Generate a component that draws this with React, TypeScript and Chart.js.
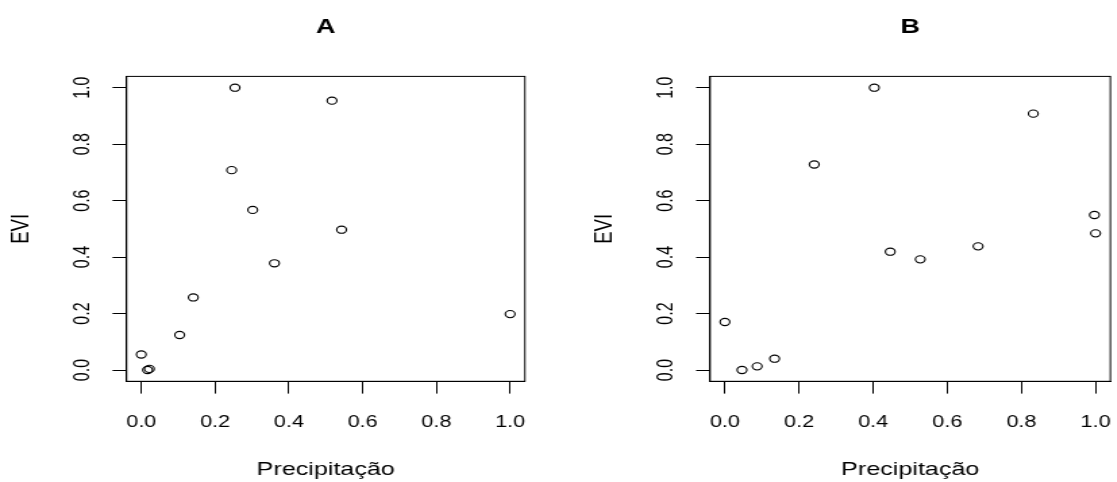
import React, { useEffect, useRef } from 'react';
import { Chart, registerables } from 'chart.js';

Chart.register(...registerables);

// ---- data ----
const panelTitles = ['A', 'B'];
const xAxisLabel = 'Precipitação';
const yAxisLabel = 'EVI';
const tickValues = [0, 0.2, 0.4, 0.6, 0.8, 1.0];
const tickLabels = ['0.0', '0.2', '0.4', '0.6', '0.8', '1.0'];

const precipA = [0.0, 0.017, 0.022, 0.104, 0.141, 0.245, 0.254, 0.302, 0.361, 0.517, 0.543, 1.0];
const eviA = [0.055, 0.0, 0.004, 0.124, 0.257, 0.708, 1.0, 0.567, 0.378, 0.954, 0.497, 0.198];

const precipB = [0.0, 0.046, 0.087, 0.134, 0.241, 0.403, 0.446, 0.527, 0.683, 0.832, 0.997, 1.0];
const eviB = [0.17, 0.0, 0.013, 0.04, 0.728, 1.0, 0.419, 0.392, 0.438, 0.908, 0.549, 0.484];

// ---- styling / layout ----
const S = 1.35; // horizontal stretch of the reference picture
const H = 482;
const FONT = '"Liberation Sans", Arial, Helvetica, sans-serif';
const TICK_FONT = 16;
const LABEL_FONT = 18.6;
const TITLE_FONT = 20;
const BOX_TOP = 76.4;
const BOX_BOTTOM = 381.3;

type PanelCfg = {
  title: string;
  xs: number[];
  ys: number[];
  cssLeft: number;
  w: number;
  boxL: number;
  boxR: number;
};

const panels: PanelCfg[] = [
  { title: panelTitles[0], xs: precipA, ys: eviA, cssLeft: 0, w: 414, boxL: 126.5, boxR: 524.8 },
  { title: panelTitles[1], xs: precipB, ys: eviB, cssLeft: 559, w: 436, boxL: 710, boxR: 1110 },
];

const boxPlugin = {
  id: 'rbox',
  afterDraw(chart: any) {
    const { ctx, chartArea } = chart;
    const { left, top, right, bottom } = chartArea;
    ctx.save();
    ctx.strokeStyle = '#000';
    ctx.lineWidth = 1;
    ctx.strokeRect(left, top, right - left, bottom - top);
    ctx.restore();
  },
};

const setTicks = (scale: any) => {
  scale.ticks = tickValues.map((value) => ({ value }));
};
const tickCb = (v: any) => {
  const i = tickValues.findIndex((t) => Math.abs(t - Number(v)) < 1e-9);
  return i >= 0 ? tickLabels[i] : '';
};

function Panel({ cfg }: { cfg: PanelCfg }) {
  const ref = useRef<HTMLCanvasElement>(null);
  useEffect(() => {
    const L = (cfg.boxL - cfg.cssLeft) / S;
    const R = (cfg.boxR - cfg.cssLeft) / S;
    const padRight = cfg.w - R;
    const labelLH = LABEL_FONT * 1.2;
    const yTitlePad = (cfg.boxL - 105 - cfg.cssLeft) / S - labelLH / 2;
    const yTickLen = 14 / S;
    const halfLabel = (TICK_FONT * 1.39) / 2;
    const yTickPad = 44 / S - yTickLen - halfLabel;
    const points = cfg.xs.map((x, i) => ({ x, y: cfg.ys[i] }));

    const chart = new Chart(ref.current as HTMLCanvasElement, {
      type: 'scatter',
      data: {
        datasets: [
          {
            data: points,
            pointStyle: 'circle',
            pointRadius: 3.6,
            pointBorderWidth: 1.1,
            pointBorderColor: '#000',
            pointBackgroundColor: 'rgba(0,0,0,0)',
            showLine: false,
          } as any,
        ],
      },
      options: {
        responsive: false,
        animation: false,
        devicePixelRatio: 1,
        events: [],
        layout: { padding: { left: 0, right: padRight, top: 0, bottom: 0 } },
        plugins: {
          legend: { display: false },
          tooltip: { enabled: false },
          title: {
            display: true,
            text: cfg.title,
            fullSize: false,
            color: '#000',
            font: { family: FONT, size: TITLE_FONT, weight: 'bold', lineHeight: 1.2 },
            padding: { top: 27.5 - TITLE_FONT * 0.6, bottom: BOX_TOP - 27.5 - TITLE_FONT * 0.6 },
          } as any,
        },
        scales: {
          x: {
            type: 'linear',
            position: 'bottom',
            min: -0.04,
            max: 1.04,
            afterBuildTicks: setTicks,
            afterFit: (s: any) => {
              s.height = H - BOX_BOTTOM;
            },
            ticks: {
              callback: tickCb,
              color: '#000',
              font: { family: FONT, size: TICK_FONT, lineHeight: 1.2 },
              padding: 422.5 - BOX_BOTTOM - 12.3 - TICK_FONT * 0.6,
              maxRotation: 0,
              autoSkip: false,
            },
            grid: { drawOnChartArea: false, drawTicks: true, tickLength: 12.3, color: '#000', lineWidth: 1 },
            border: { display: true, color: '#000', width: 1 },
            title: {
              display: true,
              text: xAxisLabel,
              color: '#000',
              font: { family: FONT, size: LABEL_FONT, lineHeight: 1.2 },
              padding: { top: 0, bottom: 1.1 },
            },
          } as any,
          y: {
            type: 'linear',
            position: 'left',
            min: -0.04,
            max: 1.04,
            afterBuildTicks: setTicks,
            afterFit: (s: any) => {
              s.width = L;
            },
            ticks: {
              callback: tickCb,
              color: '#000',
              font: { family: FONT, size: TICK_FONT, lineHeight: 1.2 },
              padding: yTickPad,
              minRotation: 90,
              maxRotation: 90,
              crossAlign: 'center',
              autoSkip: false,
            },
            grid: { drawOnChartArea: false, drawTicks: true, tickLength: yTickLen, color: '#000', lineWidth: 1 },
            border: { display: true, color: '#000', width: 1 },
            title: {
              display: true,
              text: yAxisLabel,
              color: '#000',
              font: { family: FONT, size: LABEL_FONT, lineHeight: 1.2 },
              padding: { top: yTitlePad, bottom: 0 },
            },
          } as any,
        },
      },
      plugins: [boxPlugin],
    });
    return () => chart.destroy();
  }, [cfg]);

  return (
    <canvas
      ref={ref}
      width={cfg.w}
      height={H}
      style={{
        position: 'absolute',
        left: `${cfg.cssLeft}px`,
        top: '0px',
        width: `${cfg.w * S}px`,
        height: `${H}px`,
      }}
    />
  );
}

export default function App() {
  return (
    <div
      style={{
        position: 'fixed',
        left: 0,
        top: 0,
        width: '1117px',
        height: `${H}px`,
        overflow: 'hidden',
        background: '#fff',
      }}
    >
      {panels.map((p) => (
        <Panel key={p.title} cfg={p} />
      ))}
    </div>
  );
}
